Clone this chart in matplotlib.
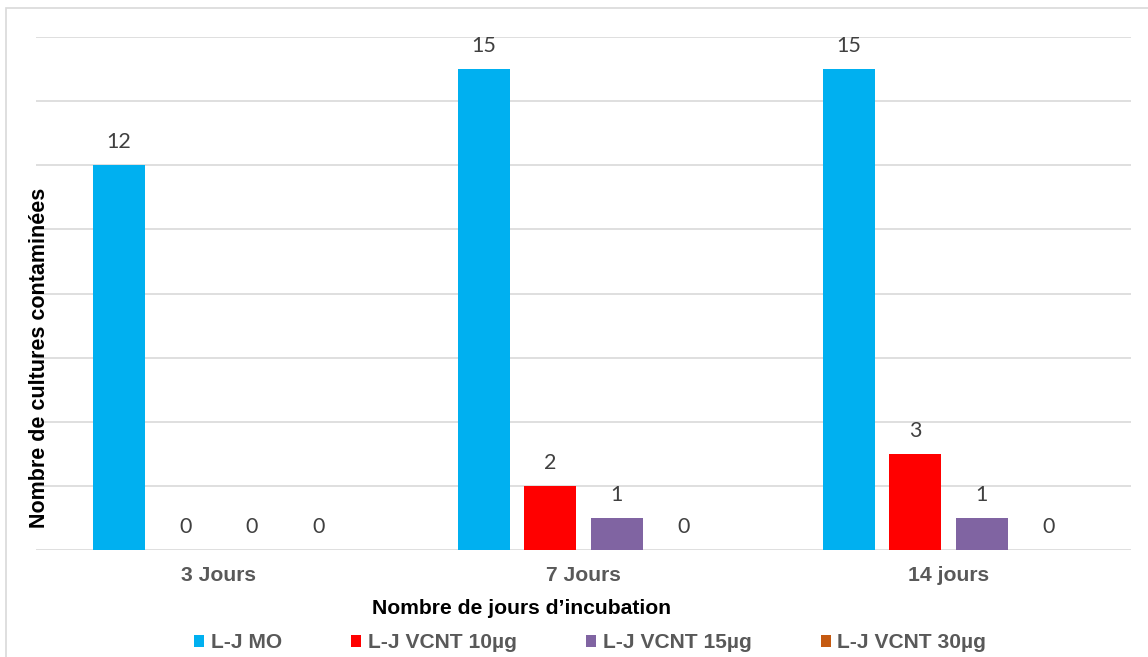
import matplotlib
matplotlib.use("Agg")
import matplotlib.pyplot as plt
from matplotlib.patches import Rectangle
import numpy as np

categories = ["3 Jours", "7 Jours", "14 jours"]
series_names = ["L-J MO", "L-J VCNT 10µg", "L-J VCNT 15µg", "L-J VCNT 30µg"]
mo = [12, 15, 15]
vcnt10 = [0, 2, 3]
vcnt15 = [0, 1, 1]
vcnt30 = [0, 0, 0]
series_values = [mo, vcnt10, vcnt15, vcnt30]
colors = ["#00B0F0", "#FF0000", "#8064A2", "#C55A11"]

W, H = 1148, 657
fig = plt.figure(figsize=(W / 100, H / 100), dpi=100)
ax = fig.add_axes([36 / W, 1 - 550 / H, (1131 - 36) / W, (550 - 37) / H])

x = np.arange(len(categories))
pitch = 0.182
width = 0.1425
containers = []
for i, (name, vals, c) in enumerate(zip(series_names, series_values, colors)):
    bc = ax.bar(x + (i - 1.5) * pitch, vals, width, color=c, label=name, zorder=3)
    containers.append(bc)
    ax.bar_label(bc, labels=[str(v) for v in vals], padding=9.5,
                 fontsize=15.5, color="#404040", family="Lato")

ax.set_xlim(-0.5, 2.5)
ax.set_ylim(0, 16)
ax.set_yticks(np.arange(0, 17, 2))
ax.yaxis.grid(True, color="#D9D9D9", linewidth=1.2, zorder=0)
ax.tick_params(axis="y", left=False, labelleft=False)
ax.tick_params(axis="x", bottom=False, pad=8)
ax.set_xticks(x)
ax.set_xticklabels(categories, fontsize=15.2, fontweight="bold", color="#595959",
                   family="Liberation Sans")
for s in ["top", "right", "left", "bottom"]:
    ax.spines[s].set_visible(False)

fig.text(522 / W, 1 - 608 / H, "Nombre de jours d’incubation", ha="center", va="center",
         fontsize=15.2, fontweight="bold", color="black", family="Liberation Sans")
fig.text(40 / W, 1 - 358 / H, "Nombre de cultures contaminées", ha="center", va="center",
         rotation=90, fontsize=15.5, fontweight="bold", color="black", family="Liberation Sans")

leg = fig.legend(handles=containers, labels=series_names, loc="center",
                 bbox_to_anchor=(590 / W, 1 - 643 / H), ncol=4, frameon=False,
                 handlelength=0.5, handleheight=0.5, handletextpad=0.3,
                 columnspacing=3.3,
                 prop={"family": "Liberation Sans", "weight": "bold", "size": 15.1})
for t in leg.get_texts():
    t.set_color("#595959")

fig.patches.append(Rectangle((6 / W, -0.05), 1.2, 1 - 8 / H + 0.05,
                             transform=fig.transFigure, fill=False,
                             edgecolor="#D9D9D9", linewidth=1.2))

fig.savefig("out.png", dpi=100)
